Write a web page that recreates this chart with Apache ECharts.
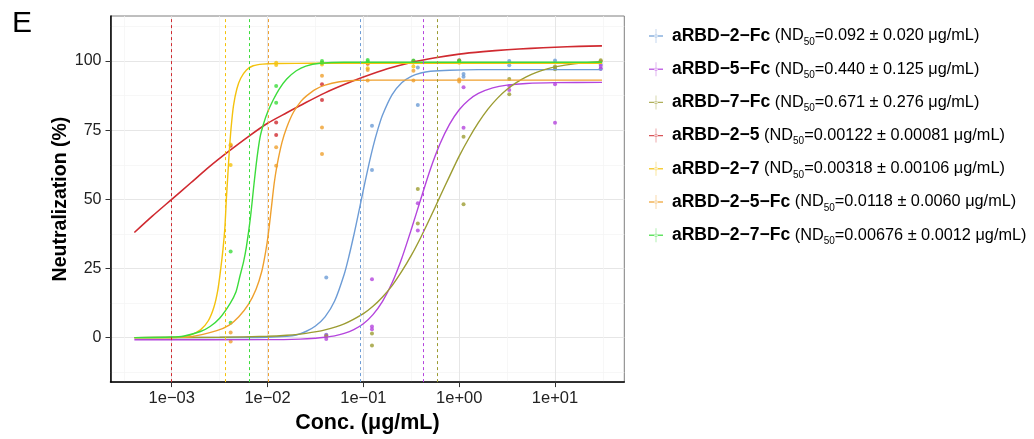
<!DOCTYPE html>
<html><head><meta charset="utf-8">
<script src="https://cdn.jsdelivr.net/npm/echarts@6/dist/echarts.min.js"></script>
<style>html,body{margin:0;padding:0;background:#fff}#c{width:1034px;height:439px}</style>
</head><body><div id="c"></div><script>
// ---------------- data ----------------
const names = ['aRBD−2−Fc', 'aRBD−5−Fc', 'aRBD−7−Fc', 'aRBD−2−5', 'aRBD−2−7', 'aRBD−2−5−Fc', 'aRBD−2−7−Fc'];
const colors = ['#6d9cd6', '#b445dd', '#9c9c32', '#d02a30', '#f4c20d', '#efa02e', '#3cdc3c'];
const ndLabels = ['0.092 ± 0.020 μg/mL', '0.440 ± 0.125 μg/mL', '0.671 ± 0.276 μg/mL',
  '0.00122 ± 0.00081 μg/mL', '0.00318 ± 0.00106 μg/mL', '0.0118 ± 0.0060 μg/mL', '0.00676 ± 0.0012 μg/mL'];
// dashed vertical ND50 lines (μg/mL), as drawn
const vlineConc = [0.0925, 0.417, 0.591, 0.00100, 0.00360, 0.0102, 0.00646];
// axis ticks
const xTickLog = [-3, -2, -1, 0, 1];
const xTickLabels = ['1e−03', '1e−02', '1e−01', '1e+00', '1e+01'];
const xMinorLog = [-3.5, -2.5, -1.5, -0.5, 0.5, 1.5];
const yTicks = [0, 25, 50, 75, 100];
const yMinor = [-12.5, 12.5, 37.5, 62.5, 87.5, 112.5];

// measured points: [conc μg/mL, neutralization %]
const pts_2Fc = [[0.041,21.7],[0.041,1.0],[0.123,76.6],[0.123,60.6],[0.37,97.7],[0.37,84.1],[1.11,95.3],[1.11,94.3],[3.33,100],[3.33,98.5],[10,100.2],[10,97.5],[30,97.2],[30,98.8]];
const pts_5Fc = [[0.041,-0.5],[0.041,0.8],[0.123,21.1],[0.123,4.0],[0.123,3.0],[0.37,48.6],[0.37,38.7],[1.11,90.5],[1.11,75.9],[3.33,91],[3.33,89.5],[10,91.6],[10,77.7],[30,98.2],[30,97.2]];
const pts_7Fc = [[0.041,0.5],[0.123,-2.9],[0.123,1.5],[0.37,53.7],[0.37,41.3],[1.11,72.6],[1.11,48.2],[3.33,93.5],[3.33,88],[10,98],[10,97],[30,99.8],[30,100.3]];
const pts_25 = [[0.00412,69.4],[0.0123,77.8],[0.0123,73.3],[0.037,91.6],[0.037,85.9],[0.111,99],[0.333,100],[1.0,100.3]];
const pts_27 = [[0.00412,69.8],[0.00412,62.4],[0.0123,99.4],[0.0123,98.6],[0.037,99.5],[0.037,98.8],[0.111,97.4],[0.111,99.3],[0.333,98],[0.333,99.5],[1.0,99.4]];
const pts_25Fc = [[0.00412,1.8],[0.00412,-1.4],[0.0123,68.8],[0.0123,62.1],[0.037,94.7],[0.037,76.0],[0.037,66.4],[0.111,96.8],[0.111,93],[0.333,96.5],[0.333,93],[1.0,93.3],[1.0,92.6]];
const pts_27Fc = [[0.00412,31.1],[0.00412,5.4],[0.0123,91],[0.0123,84.9],[0.037,99.4],[0.037,100],[0.111,100.4],[0.111,99.8],[0.333,100.2],[0.333,99.6],[1.0,100.1],[1.0,99.7]];

// fitted curves: [log10(conc), neutralization %]
const curve_2Fc = [[-3.39,0],[-2.4,0.02],[-2.0,0.12],[-1.8,0.47],[-1.7,0.95],[-1.6,2.2],[-1.5,4.2],[-1.4,7.5],[-1.3,13.2],[-1.2,22.9],[-1.15,29.5],[-1.1,37],[-1.05,45.1],[-1.0,53.4],[-0.95,61.5],[-0.9,68.9],[-0.85,75.2],[-0.8,80.5],[-0.7,87.9],[-0.6,92.2],[-0.5,94.5],[-0.4,95.7],[-0.3,96.3],[-0.1,96.7],[0.2,96.9],[1.49,96.9]];
const curve_5Fc = [[-3.39,-0.8],[-2.0,-0.75],[-1.66,-0.55],[-1.5,-0.25],[-1.4,0.1],[-1.3,0.6],[-1.2,1.5],[-1.1,2.9],[-1.0,5.0],[-0.9,8.3],[-0.8,13.1],[-0.7,19.8],[-0.6,28.6],[-0.5,39.1],[-0.4,50.2],[-0.3,61],[-0.2,70.1],[-0.1,77.2],[0,82.4],[0.1,85.9],[0.2,88.3],[0.35,90.3],[0.5,91.3],[0.7,91.9],[1.0,92.2],[1.49,92.3]];
const curve_7Fc = [[-3.39,0],[-2.5,0.11],[-2.0,0.47],[-1.8,0.86],[-1.6,1.54],[-1.4,2.78],[-1.2,4.93],[-1.0,8.64],[-0.9,11.3],[-0.8,14.7],[-0.7,18.8],[-0.6,23.9],[-0.5,29.7],[-0.4,36.3],[-0.3,43.5],[-0.2,51.0],[-0.1,58.4],[0,65.6],[0.1,72.0],[0.2,77.7],[0.3,82.6],[0.4,86.6],[0.5,89.8],[0.6,92.3],[0.7,94.3],[0.8,95.8],[0.9,97.0],[1.0,97.9],[1.2,99.0],[1.49,99.9]];
const curve_25 = [[-3.39,38],[-3.2,44],[-3.0,50],[-2.8,56],[-2.6,62],[-2.4,67.5],[-2.2,72.7],[-2.0,77.5],[-1.8,81.3],[-1.6,85],[-1.4,88.5],[-1.2,91.5],[-1.0,94.2],[-0.75,97.2],[-0.5,99.5],[-0.25,101.2],[0,102.5],[0.25,103.4],[0.5,104.1],[0.75,104.6],[1.0,105.0],[1.25,105.3],[1.49,105.5]];
const curve_27 = [[-3.39,0],[-3.0,0],[-2.9,0.3],[-2.8,1],[-2.7,2.8],[-2.62,6],[-2.56,11],[-2.52,17],[-2.49,24.5],[-2.465,32],[-2.445,40],[-2.43,50],[-2.415,58.5],[-2.40,67],[-2.38,76],[-2.355,84],[-2.32,90],[-2.28,93.8],[-2.22,96.8],[-2.15,98.3],[-2.05,98.9],[-1.9,99.1],[-1.5,99.2],[1.49,99.2]];
const curve_25Fc = [[-3.39,0],[-3.0,0.05],[-2.8,0.3],[-2.53,2.5],[-2.4,4.5],[-2.3,7.5],[-2.2,12],[-2.12,17.5],[-2.06,24],[-2.02,31],[-1.99,38],[-1.96,47],[-1.93,56],[-1.9,62.5],[-1.85,70.5],[-1.8,76],[-1.73,81.5],[-1.65,85.5],[-1.59,87.5],[-1.5,89.8],[-1.4,91.3],[-1.25,92.5],[-1.1,93.0],[-0.9,93.1],[1.49,93.1]];
const curve_27Fc = [[-3.39,0],[-3.0,0.2],[-2.88,0.5],[-2.7,2.2],[-2.6,4],[-2.5,7],[-2.39,12.4],[-2.33,16.5],[-2.29,22],[-2.25,27.5],[-2.22,33],[-2.18,43],[-2.14,56],[-2.11,65],[-2.078,72.5],[-2.04,77.5],[-2.0,81.5],[-1.94,86],[-1.88,89.8],[-1.8,93.5],[-1.7,96.5],[-1.6,98.2],[-1.45,99.2],[-1.2,99.6],[1.49,99.6]];

const points = [pts_2Fc, pts_5Fc, pts_7Fc, pts_25, pts_27, pts_25Fc, pts_27Fc];
const curves = [curve_2Fc, curve_5Fc, curve_7Fc, curve_25, curve_27, curve_25Fc, curve_27Fc];

// ---------------- chart ----------------
const FONT = '"Liberation Sans", Arial, Helvetica, sans-serif';
const X_MIN = -3.639, X_MAX = 1.723, Y_MIN = -16.1, Y_MAX = 116.3;
const chart = echarts.init(document.getElementById('c'), null, {renderer: 'canvas', width: 1034, height: 439});

const series = [];
names.forEach((n, i) => {
  series.push({
    type: 'scatter', name: n, silent: true, z: 2,
    symbol: 'circle', symbolSize: 4,
    itemStyle: {color: colors[i]},
    data: points[i].map(p => [Math.log10(p[0]), p[1]])
  });
});
names.forEach((n, i) => {
  const dash = {color: colors[i], type: [3, 3], width: 1, opacity: 1};
  series.push({
    type: 'line', name: n, silent: true, z: 3,
    showSymbol: false, symbol: 'none',
    smooth: 0.25,
    lineStyle: {color: colors[i], width: i === 3 ? 1.6 : 1.4},
    itemStyle: {color: colors[i]},
    data: curves[i],
    markLine: {
      silent: true, symbol: ['none', 'none'], label: {show: false}, animation: false,
      lineStyle: dash,
      data: [{xAxis: Math.log10(vlineConc[i]), lineStyle: dash}]
    }
  });
});

const iconPath = 'path://M0,6.3H14V7.7H0Z M6.75,0H7.25V14H6.75Z M5.3,7A1.7,1.7,0,1,0,8.7,7A1.7,1.7,0,1,0,5.3,7Z';

chart.setOption({
  animation: false,
  backgroundColor: '#ffffff',
  textStyle: {fontFamily: FONT},
  grid: {left: 110.5, right: 409.7, top: 16, bottom: 56.7, show: true, borderColor: '#7f7f7f', borderWidth: 1, containLabel: false},
  graphic: [{type: 'text', left: 12, top: 9, style: {text: 'E', font: '30px ' + FONT, fill: '#000'}}],
  xAxis: [{
    type: 'value', min: X_MIN, max: X_MAX, position: 'bottom',
    name: 'Conc. (μg/mL)', nameLocation: 'middle', nameGap: 27,
    nameTextStyle: {fontSize: 21.5, fontWeight: 'bold', color: '#000', fontFamily: FONT},
    axisLine: {show: true, onZero: false, lineStyle: {color: '#000', width: 1.5}},
    axisTick: {show: true, length: 5, customValues: xTickLog, lineStyle: {color: '#333', width: 1}},
    axisLabel: {show: true, customValues: xTickLog, margin: 8, fontSize: 16.5, color: '#222', fontFamily: FONT,
      formatter: v => xTickLabels[xTickLog.indexOf(Math.round(v))]},
    splitLine: {show: true, lineStyle: {color: '#e6e6e6', width: 1}}
  }, {
    type: 'value', min: X_MIN, max: X_MAX, position: 'bottom',
    axisLine: {show: false}, axisLabel: {show: false},
    axisTick: {show: false, customValues: xMinorLog},
    splitLine: {show: true, lineStyle: {color: '#f3f3f3', width: 0.7}}
  }],
  yAxis: [{
    type: 'value', min: Y_MIN, max: Y_MAX, position: 'left',
    name: 'Neutralization (%)', nameLocation: 'middle', nameGap: 39,
    nameTextStyle: {fontSize: 19.5, fontWeight: 'bold', color: '#000', fontFamily: FONT},
    axisLine: {show: true, onZero: false, lineStyle: {color: '#000', width: 1.5}},
    axisTick: {show: true, length: 5, customValues: yTicks, lineStyle: {color: '#333', width: 1}},
    axisLabel: {show: true, customValues: yTicks, margin: 9, fontSize: 16, color: '#222', fontFamily: FONT},
    splitLine: {show: true, lineStyle: {color: '#e6e6e6', width: 1}}
  }, {
    type: 'value', min: Y_MIN, max: Y_MAX, position: 'left',
    axisLine: {show: false}, axisLabel: {show: false},
    axisTick: {show: false, customValues: yMinor},
    splitLine: {show: true, lineStyle: {color: '#f3f3f3', width: 0.7}}
  }],
  legend: {
    orient: 'vertical', left: 644, top: 22, itemGap: 13.2,
    itemWidth: 14, itemHeight: 14, icon: iconPath,
    data: names,
    formatter: name => {
      const i = names.indexOf(name);
      return '{b|' + name + '}{n| (ND}{s|50}{n|=' + ndLabels[i] + ')}';
    },
    textStyle: {
      fontFamily: FONT, color: '#000',
      rich: {
        b: {fontSize: 17.5, fontWeight: 'bold', color: '#000', lineHeight: 22, padding: [0, 0, 0, 4], fontFamily: FONT},
        n: {fontSize: 16.3, color: '#000', lineHeight: 22, fontFamily: FONT},
        s: {fontSize: 10, color: '#000', lineHeight: 12, verticalAlign: 'bottom', fontFamily: FONT}
      }
    }
  },
  series: series
});
</script></body></html>
